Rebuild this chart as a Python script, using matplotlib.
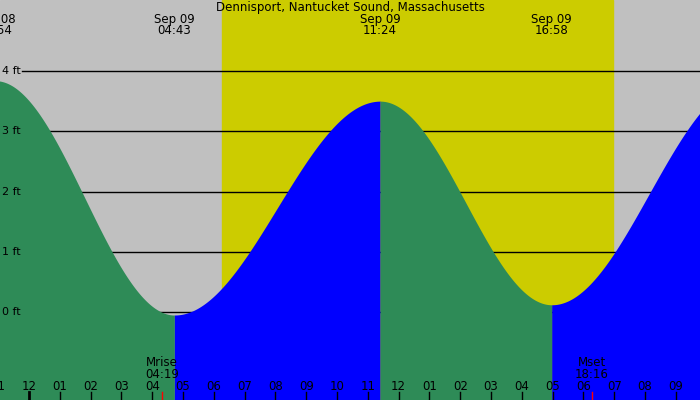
import numpy as np
import matplotlib
matplotlib.use("Agg")
import matplotlib.pyplot as plt

title = "Dennisport, Nantucket Sound, Massachusetts"
# tide extremes: hours from midnight Sep 9, height ft
ext_hours = [-1.1, 4.72, 11.4, 16.97, 23.3]
ext_heights = [3.84, -0.05, 3.5, 0.12, 3.8]
ext_labels = [("Sep 08", "22:54"), ("Sep 09", "04:43"), ("Sep 09", "11:24"), ("Sep 09", "16:58")]
sunrise, sunset = 6.27, 18.96
moonrise, moonset = 4.32, 18.27
moon_labels = [("Mrise", "04:19"), ("Mset", "18:16")]
hour_ticks = list(range(-1, 22))
hour_names = ["11", "12", "01", "02", "03", "04", "05", "06", "07", "08", "09", "10", "11",
              "12", "01", "02", "03", "04", "05", "06", "07", "08", "09"]
ft_levels = [0, 1, 2, 3, 4]

x0 = -29 / 30.8
x1 = (700 - 29) / 30.8
y0 = -(400 - 312) / 60.25
y1 = 312 / 60.25

fig = plt.figure(figsize=(7, 4), dpi=100)
ax = fig.add_axes([0, 0, 1, 1])
ax.set_xlim(x0, x1)
ax.set_ylim(y0, y1)
ax.axis("off")
ax.axvspan(x0, x1, color="#c0c0c0", zorder=0)
ax.axvspan(sunrise, sunset, color="#cccc00", zorder=0.5)

xl = 22 / 30.8 + x0
for f in ft_levels:
    ax.plot([xl, x1], [f, f], color="black", lw=1, zorder=1)
    ax.text(xl - 0.05, f, f"{f} ft", ha="right", va="center", fontsize=8, zorder=3)

for i in range(len(ext_hours) - 1):
    ha, hb = ext_hours[i], ext_hours[i + 1]
    va, vb = ext_heights[i], ext_heights[i + 1]
    t = np.linspace(ha, hb, 200)
    y = va + (vb - va) * (1 - np.cos(np.pi * (t - ha) / (hb - ha))) / 2
    col = "#2e8b57" if vb < va else "#0000ff"
    ax.fill_between(t, y0, y, color=col, lw=0, zorder=2)

for h, (d, tm) in zip(ext_hours, ext_labels):
    ax.text(h, y1 - 19 / 60.25, d, ha="center", va="center", fontsize=8.5)
    ax.text(h, y1 - 31 / 60.25, tm, ha="center", va="center", fontsize=8.5)
ax.text((x0 + x1) / 2, y1 - 7 / 60.25, title, ha="center", va="center", fontsize=8.5)

for h, (a, b) in zip([moonrise, moonset], moon_labels):
    ax.text(h, y0 + 38 / 60.25, a, ha="center", va="center", fontsize=8.5)
    ax.text(h, y0 + 26 / 60.25, b, ha="center", va="center", fontsize=8.5)
    ax.plot([h, h], [y0, y0 + 8 / 60.25], color="red", lw=1, zorder=4)

for h, n in zip(hour_ticks, hour_names):
    ax.text(h, y0 + 14 / 60.25, n, ha="center", va="center", fontsize=8.5, zorder=4)
    lw = 2 if n == "12" and h == 0 else 1
    ax.plot([h, h], [y0, y0 + 8 / 60.25], color="black", lw=lw, zorder=4)

fig.savefig("out.png", dpi=100)
